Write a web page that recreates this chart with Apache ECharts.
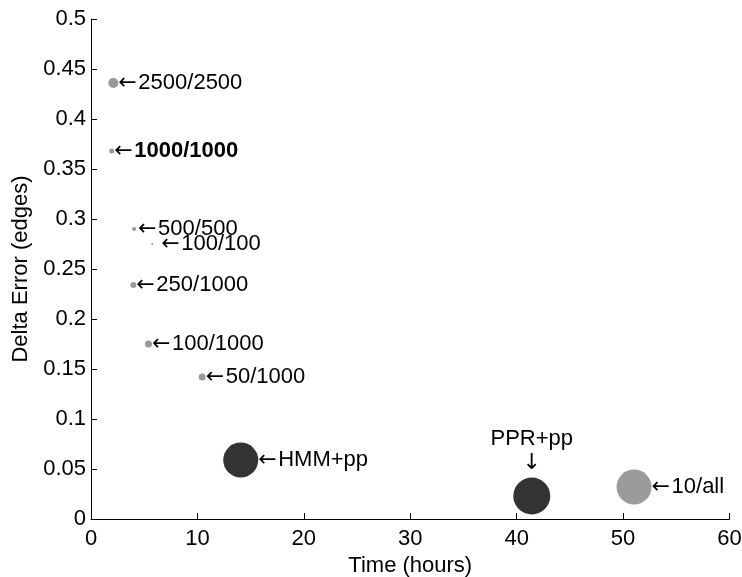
<!DOCTYPE html>
<html>
<head>
<meta charset="utf-8">
<script src="https://cdn.jsdelivr.net/npm/echarts@6/dist/echarts.min.js"></script>
<style>
  html, body { margin: 0; padding: 0; background: #fff; }
  #chart { width: 742px; height: 577px; }
</style>
</head>
<body>
<div id="chart"></div>
<script>
// Run configurations: time taken vs. delta error
const runNames   = ['2500/2500', '1000/1000', '500/500', '100/100', '250/1000', '100/1000', '50/1000', 'HMM+pp', 'PPR+pp', '10/all'];
const timeHours  = [2.1, 1.95, 4.05, 5.75, 3.98, 5.4, 10.45, 14.07, 41.42, 51.03];
const deltaError = [0.436, 0.368, 0.290, 0.275, 0.234, 0.175, 0.142, 0.059, 0.023, 0.032];

// Axis ticks
const xTicks = [0, 10, 20, 30, 40, 50, 60];
const yTicks = [0, 0.05, 0.1, 0.15, 0.2, 0.25, 0.3, 0.35, 0.4, 0.45, 0.5];

// Marker appearance per run
const markerDiameters = [10, 5, 4, 2, 6, 7, 7, 35, 37, 35];
const markerColors = ['#999999', '#999999', '#999999', '#999999', '#999999', '#999999', '#999999', '#333333', '#333333', '#9b9b9b'];

const FONT = '"Liberation Sans", Arial, Helvetica, sans-serif';
const ARROW_FONT = '"DejaVu Sans", sans-serif';
const TEXT_SIZE = 22;

const points = runNames.map((name, i) => {
  const bold = name === '1000/1000';
  const label = {
    show: true,
    position: 'right',
    distance: 0,
    formatter: '{arr|\u2190}{txt|' + name + '}',
    color: '#000',
    opacity: 1,
    rich: {
      arr: { fontFamily: ARROW_FONT, fontSize: TEXT_SIZE, color: '#000', width: 20 },
      txt: { fontFamily: FONT, fontSize: TEXT_SIZE, color: '#000', fontWeight: bold ? 'bold' : 'normal' }
    }
  };
  if (name === '100/100') label.distance = 8;
  if (name === '500/500') label.distance = 2;
  if (name === 'PPR+pp') {
    label.position = 'top';
    label.distance = 2;
    label.formatter = '{txt|' + name + '}\n{down|\u2193}';
    label.align = 'center';
    label.rich.txt.lineHeight = 26;
    label.rich.down = { fontFamily: ARROW_FONT, fontSize: TEXT_SIZE, color: '#000', lineHeight: 24 };
  }
  return {
    name: name,
    value: [timeHours[i], deltaError[i]],
    symbolSize: markerDiameters[i],
    itemStyle: { color: markerColors[i], opacity: 1 },
    label: label
  };
});

const chart = echarts.init(document.getElementById('chart'));
chart.setOption({
  animation: false,
  backgroundColor: '#fff',
  grid: {
    left: 91, right: 12.5, top: 19, bottom: 58,
    containLabel: false,
    outerBoundsMode: 'none'
  },
  xAxis: {
    type: 'value',
    min: xTicks[0],
    max: xTicks[xTicks.length - 1],
    interval: xTicks[1] - xTicks[0],
    name: 'Time (hours)',
    nameLocation: 'middle',
    nameGap: 32,
    nameTextStyle: { color: '#000', fontFamily: FONT, fontSize: TEXT_SIZE },
    axisLine: { show: true, onZero: false, lineStyle: { color: '#000', width: 1 } },
    axisTick: { show: true, inside: true, length: 6, lineStyle: { color: '#000' } },
    axisLabel: { color: '#000', fontFamily: FONT, fontSize: TEXT_SIZE, margin: 9 },
    splitLine: { show: false }
  },
  yAxis: {
    type: 'value',
    min: yTicks[0],
    max: yTicks[yTicks.length - 1],
    interval: yTicks[1] - yTicks[0],
    name: 'Delta Error (edges)',
    nameLocation: 'middle',
    nameGap: 54,
    nameTextStyle: { color: '#000', fontFamily: FONT, fontSize: TEXT_SIZE },
    axisLine: { show: true, onZero: false, lineStyle: { color: '#000', width: 1 } },
    axisTick: { show: true, inside: true, length: 6, lineStyle: { color: '#000' } },
    axisLabel: {
      color: '#000', fontFamily: FONT, fontSize: TEXT_SIZE, margin: 5,
      formatter: v => String(Math.round(v * 100) / 100)
    },
    splitLine: { show: false }
  },
  series: [{
    type: 'scatter',
    symbol: 'circle',
    data: points,
    emphasis: { disabled: true },
    labelLayout: { hideOverlap: false }
  }]
});
</script>
</body>
</html>
